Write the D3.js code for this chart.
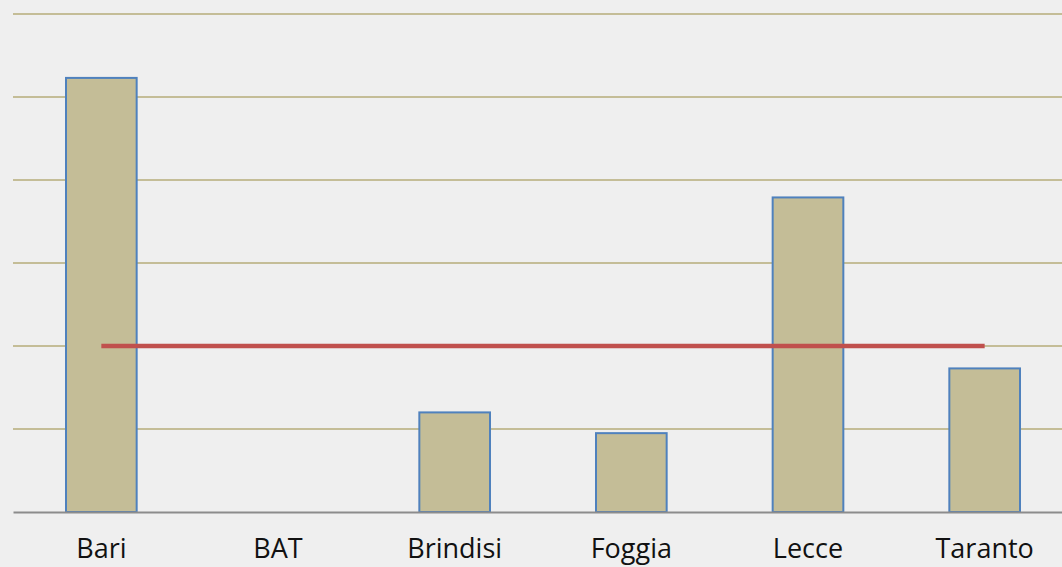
<!DOCTYPE html>
<html>
<head>
<meta charset="utf-8">
<script src="https://cdn.jsdelivr.net/npm/d3@7"></script>
<style>
  html, body { margin: 0; padding: 0; background: #efefef; }
  svg { display: block; }
</style>
</head>
<body>
<div id="canvas"></div>
<script>
// DATA ========================================================================

var CATEGORIES = ["Bari", "BAT", "Brindisi", "Foggia", "Lecce", "Taranto"]

var VALUES = [5.23, 0, 1.2, 0.95, 3.79, 1.73]

var AVERAGE = [2.0, 2.0, 2.0, 2.0, 2.0, 2.0]

var Y_TICKS = [0, 1, 2, 3, 4, 5, 6]

// SETTINGS ====================================================================

var WIDTH = 1062
var HEIGHT = 567

var MARGIN = { "top": 14, "right": -11, "bottom": 55, "left": 13 }

var COLORS = {
    "bar": "#c4bd97",
    "barStroke": "#4f81bd",
    "grid": "#c4bd97",
    "axis": "#8c8c8c",
    "line": "#c0504d",
    "text": "#111111"
}

// SVG GENERATOR ===============================================================

function translate(x, y) {
    return "translate(" + x + "," + y + ")"
}

function generate() {
    let W = WIDTH - MARGIN.left - MARGIN.right
    let H = HEIGHT - MARGIN.top - MARGIN.bottom

    let svg = d3.select("#canvas").append("svg")
        .attr("width", WIDTH)
        .attr("height", HEIGHT)

    svg.append("rect")
        .attr("width", WIDTH)
        .attr("height", HEIGHT)
        .attr("fill", "#efefef")

    let G = svg.append("g").attr("transform", translate(MARGIN.left, MARGIN.top))

    let x = d3.scaleBand().domain(CATEGORIES).range([0, W]).paddingInner(0.6).paddingOuter(0.3)
    let y = d3.scaleLinear().domain([0, 6]).range([H, 0])

    // Gridlines.
    G.append("g").selectAll("line")
        .data(Y_TICKS.filter(d => d > 0)).enter()
        .append("line")
            .attr("x1", 0)
            .attr("x2", W)
            .attr("y1", d => y(d))
            .attr("y2", d => y(d))
            .attr("stroke", COLORS.grid)
            .attr("stroke-width", 2)

    // Bars.
    G.append("g").selectAll("rect")
        .data(CATEGORIES.map((c, i) => ({ "cat": c, "value": VALUES[i] })).filter(d => d.value > 0)).enter()
        .append("rect")
            .attr("x", d => x(d.cat))
            .attr("y", d => y(d.value))
            .attr("width", x.bandwidth())
            .attr("height", d => y(0) - y(d.value))
            .attr("fill", COLORS.bar)
            .attr("stroke", COLORS.barStroke)
            .attr("stroke-width", 2)

    // Baseline axis.
    let axis = G.append("g")
        .attr("transform", translate(0, y(0)))
        .call(d3.axisBottom(x).tickSize(0).tickPadding(27))

    axis.select(".domain")
        .attr("stroke", COLORS.axis)
        .attr("stroke-width", 2)

    axis.selectAll("text")
        .attr("font-family", "'Open Sans', sans-serif")
        .attr("font-size", "27px")
        .attr("fill", COLORS.text)

    // Average line.
    let line = d3.line()
        .x((d, i) => x(CATEGORIES[i]) + x.bandwidth()/2)
        .y(d => y(d))

    G.append("path")
        .datum(AVERAGE)
        .attr("d", line)
        .attr("fill", "none")
        .attr("stroke", COLORS.line)
        .attr("stroke-width", 4.5)
}

generate()
</script>
</body>
</html>
